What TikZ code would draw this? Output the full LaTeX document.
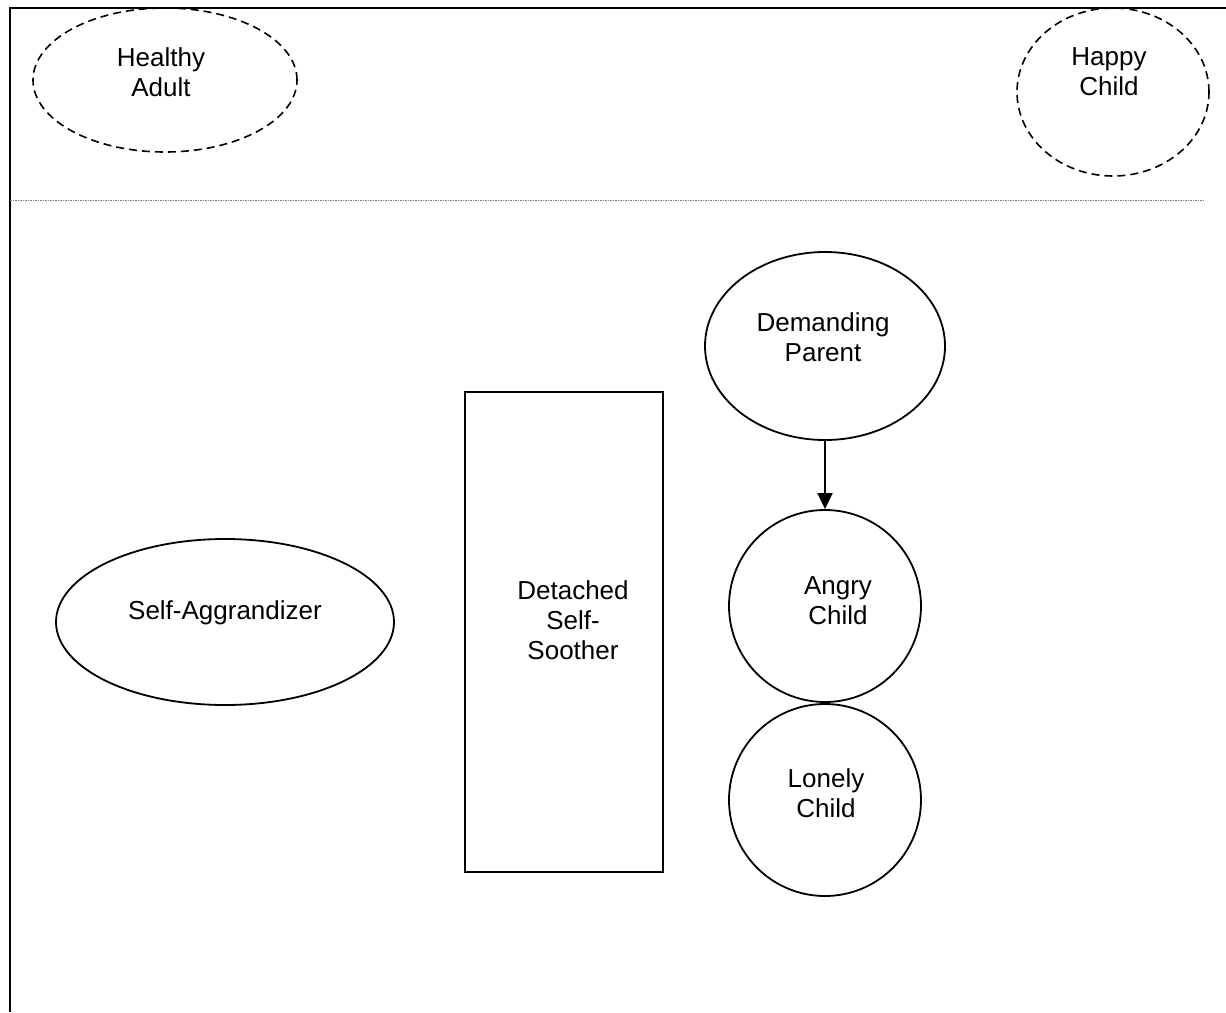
\documentclass[tikz,border=0pt]{standalone}
\usepackage{fontspec}
\setmainfont{Liberation Sans}
\usetikzlibrary{shapes.geometric,arrows.meta}
\begin{document}
\begin{tikzpicture}[x=1pt,y=-1pt,
  lbl/.style={align=center,font=\fontsize{26}{30}\selectfont,inner sep=0pt},
  solidshape/.style={draw,line width=1.8pt,inner sep=0pt},
  dashshape/.style={draw,line width=1.6pt,dash pattern=on 8pt off 5pt,inner sep=0pt},
  frameline/.style={line width=2.5pt},
  sepline/.style={gray,line width=0.9pt,dash pattern=on 1.5pt off 1pt},
  link/.style={line width=2pt,-{Triangle[length=16pt,width=15pt]}}]
\useasboundingbox (0,0) rectangle (1226,1012);
% frame
\coordinate (fbl) at (10,1012);
\coordinate (ftl) at (10,8);
\coordinate (ftr) at (1226,8);
\draw[frameline] (fbl) -- (ftl) -- (ftr);
\coordinate (sl) at (10,200);
\coordinate (sr) at (1205,200);
\draw[sepline] (sl) -- (sr);
% shapes
\node[dashshape,ellipse,minimum width=264pt,minimum height=144pt] (ha) at (165,80) {};
\node[dashshape,ellipse,minimum width=192pt,minimum height=168pt] (hc) at (1113,92) {};
\node[solidshape,ellipse,minimum width=240pt,minimum height=188pt] (dp) at (825,346) {};
\node[solidshape,circle,minimum size=192pt] (ac) at (825,606) {};
\node[solidshape,circle,minimum size=192pt] (lc) at (825,800) {};
\node[solidshape,ellipse,minimum width=338pt,minimum height=166pt] (sa) at (225,622) {};
\node[solidshape,rectangle,minimum width=198pt,minimum height=480pt] (ds) at (564,632) {};
% labels
\node[lbl] (hat) at (161,72) {Healthy\\Adult};
\node[lbl] (hct) at (1109,72) {Happy\\Child};
\node[lbl] (dpt) at (823,337) {Demanding\\Parent};
\node[lbl] (act) at (838,601) {Angry\\Child};
\node[lbl] (lct) at (826,793) {Lonely\\Child};
\node[lbl] (sat) at (225,613) {Self-Aggrandizer};
\node[lbl] (dst) at (573,620) {Detached\\Self-\\Soother};
% connector
\draw[link] (dp.south) -- (ac.north);
\end{tikzpicture}
\end{document}
